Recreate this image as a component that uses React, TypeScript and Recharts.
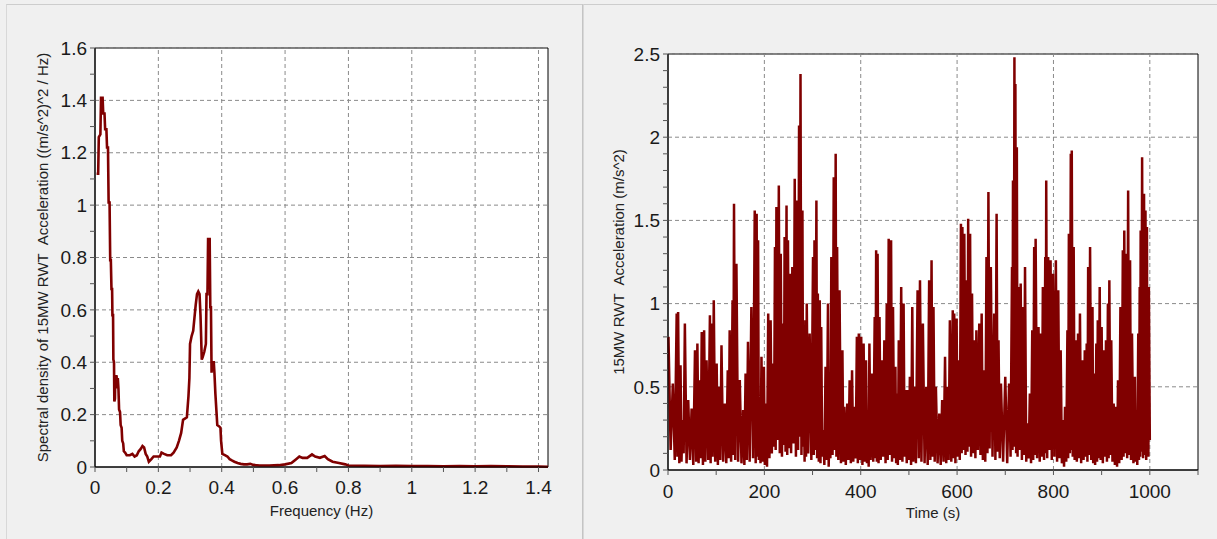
import { LineChart, Line, XAxis, YAxis, CartesianGrid, ReferenceLine, ReferenceArea } from 'recharts';

// spectral density (left panel)
const freqHz = [
  0.005, 0.01, 0.012, 0.017, 0.019, 0.024, 0.026, 0.03, 0.032, 0.036, 0.038, 0.041, 0.043, 0.046, 0.048, 0.05,
  0.052, 0.054, 0.055, 0.057, 0.058, 0.06, 0.061, 0.063, 0.064, 0.068, 0.07, 0.072, 0.074, 0.076, 0.079, 0.081,
  0.084, 0.086, 0.089, 0.091, 0.095, 0.1, 0.11, 0.118, 0.125, 0.132, 0.138, 0.145, 0.15, 0.155, 0.16, 0.165,
  0.17, 0.178, 0.185, 0.195, 0.205, 0.21, 0.218, 0.228, 0.24, 0.248, 0.258, 0.265, 0.272, 0.278, 0.29, 0.295,
  0.298, 0.3, 0.305, 0.31, 0.314, 0.318, 0.322, 0.326, 0.33, 0.333, 0.335, 0.337, 0.34, 0.345, 0.35, 0.352,
  0.355, 0.357, 0.362, 0.364, 0.366, 0.368, 0.37, 0.375, 0.377, 0.38, 0.384, 0.386, 0.392, 0.396, 0.398, 0.402,
  0.41, 0.418, 0.425, 0.432, 0.44, 0.45, 0.46, 0.47, 0.48, 0.49, 0.5, 0.52, 0.55, 0.58, 0.6, 0.62,
  0.635, 0.645, 0.655, 0.67, 0.685, 0.695, 0.71, 0.725, 0.735, 0.75, 0.77, 0.79, 0.8, 0.85, 0.9, 0.95,
  1.0, 1.05, 1.1, 1.15, 1.2, 1.25, 1.3, 1.35, 1.4, 1.43,
];
const psdValues = [
  1.12, 1.12, 1.26, 1.27, 1.41, 1.41, 1.35, 1.35, 1.29, 1.29, 1.22, 1.22, 1.01, 1.01, 0.79, 0.79,
  0.68, 0.68, 0.58, 0.58, 0.41, 0.4, 0.25, 0.26, 0.34, 0.35, 0.3, 0.34, 0.3, 0.22, 0.21, 0.16,
  0.15, 0.1, 0.09, 0.06, 0.055, 0.045, 0.045, 0.05, 0.04, 0.045, 0.06, 0.07, 0.08, 0.075, 0.05, 0.04,
  0.02, 0.03, 0.04, 0.04, 0.04, 0.055, 0.05, 0.045, 0.045, 0.055, 0.075, 0.1, 0.13, 0.18, 0.19, 0.27,
  0.34, 0.47, 0.5, 0.52, 0.57, 0.62, 0.66, 0.67, 0.66, 0.58, 0.5, 0.41, 0.42, 0.44, 0.47, 0.66,
  0.66, 0.87, 0.87, 0.61, 0.61, 0.36, 0.4, 0.4, 0.36, 0.28, 0.2, 0.16, 0.155, 0.15, 0.1, 0.05,
  0.045, 0.04, 0.03, 0.025, 0.02, 0.015, 0.012, 0.01, 0.01, 0.012, 0.008, 0.006, 0.006, 0.007, 0.01, 0.015,
  0.03, 0.04, 0.035, 0.035, 0.048, 0.04, 0.035, 0.042, 0.03, 0.02, 0.015, 0.01, 0.006, 0.005, 0.004, 0.005,
  0.004, 0.004, 0.003, 0.004, 0.003, 0.004, 0.003, 0.002, 0.002, 0.001,
];

// acceleration time series (right panel): local maxima and the minimum that follows each
const peakTimes = [
  1, 10, 18, 21, 26, 30, 35, 42, 49, 56,
  61, 66, 70, 75, 80, 87, 90, 95, 101, 106,
  111, 118, 124, 128, 134, 137, 142, 149, 156, 161,
  166, 173, 180, 184, 187, 190, 194, 199, 203, 208,
  213, 218, 222, 225, 230, 234, 239, 242, 246, 249,
  253, 258, 263, 268, 272, 275, 279, 282, 285, 288,
  294, 301, 304, 308, 311, 315, 318, 322, 327, 332,
  335, 339, 344, 348, 351, 356, 362, 366, 372, 377,
  382, 387, 392, 396, 401, 406, 411, 415, 418, 423,
  429, 432, 435, 439, 444, 449, 454, 458, 463, 467,
  472, 475, 479, 484, 489, 493, 498, 502, 507, 511,
  518, 523, 529, 536, 542, 547, 551, 556, 563, 569,
  575, 580, 585, 591, 594, 599, 603, 608, 611, 615,
  620, 623, 627, 631, 636, 640, 646, 651, 656, 661,
  665, 670, 677, 682, 686, 691, 700, 708, 714, 716,
  719, 721, 724, 727, 732, 737, 741, 746, 751, 756,
  760, 763, 769, 774, 778, 783, 785, 789, 794, 799,
  805, 810, 815, 820, 824, 829, 832, 836, 838, 842,
  846, 851, 855, 860, 865, 869, 872, 876, 881, 884,
  889, 892, 896, 900, 905, 909, 913, 916, 920, 925,
  930, 934, 939, 944, 947, 951, 955, 959, 963, 969,
  972, 976, 979, 981, 984, 988, 991, 994, 996, 998,
];
const peakValues = [
  0.8, 0.52, 0.94, 0.95, 0.63, 0.3, 0.88, 0.42, 0.37, 0.72,
  0.76, 0.54, 0.83, 0.84, 0.66, 0.93, 0.88, 1.02, 0.64, 0.5,
  0.75, 0.4, 0.6, 0.84, 1.02, 1.6, 1.24, 0.54, 0.36, 0.58,
  0.77, 0.98, 1.56, 1.54, 1.38, 0.42, 0.68, 0.62, 0.4, 0.94,
  0.9, 0.64, 1.34, 1.58, 1.71, 1.3, 0.88, 1.4, 1.59, 1.38,
  1.18, 1.22, 1.75, 1.62, 2.07, 2.38, 1.56, 0.5, 0.9, 1.0,
  0.82, 1.28, 1.38, 1.62, 1.06, 1.02, 0.86, 0.24, 0.62, 1.0,
  0.24, 1.28, 1.76, 1.9, 1.34, 1.08, 0.72, 0.38, 0.4, 0.54,
  0.6, 0.38, 0.8, 0.82, 0.8, 0.76, 0.66, 0.32, 0.76, 0.58,
  0.92, 1.32, 1.3, 0.92, 0.66, 0.78, 1.0, 1.39, 1.38, 0.98,
  0.62, 0.46, 0.78, 1.1, 1.0, 0.48, 0.48, 0.56, 0.98, 0.5,
  1.08, 1.14, 0.88, 0.5, 1.14, 1.26, 0.98, 0.5, 0.34, 0.42,
  0.68, 0.5, 0.9, 0.96, 0.94, 0.91, 0.66, 1.48, 1.46, 1.42,
  1.14, 1.51, 1.42, 1.06, 0.78, 0.84, 0.88, 0.94, 0.6, 1.28,
  1.67, 1.22, 0.94, 1.54, 0.78, 0.52, 0.56, 0.52, 1.22, 1.74,
  2.48, 2.32, 1.94, 1.1, 1.12, 0.98, 1.22, 0.28, 0.46, 0.84,
  1.34, 1.39, 0.86, 0.82, 1.1, 1.28, 1.74, 1.28, 1.26, 1.18,
  1.26, 1.08, 0.72, 0.3, 0.38, 0.84, 1.42, 1.9, 1.92, 1.34,
  0.78, 0.82, 0.94, 0.66, 0.72, 0.76, 1.22, 1.34, 0.98, 0.58,
  0.76, 0.9, 1.1, 0.86, 0.72, 0.78, 1.0, 1.14, 0.78, 0.4,
  0.38, 0.54, 0.98, 1.32, 1.44, 1.3, 1.68, 1.26, 0.82, 0.56,
  0.34, 0.82, 1.1, 1.44, 1.88, 1.66, 1.56, 1.46, 1.1, 1.1,
];
const troughValues = [
  0.12, 0.06, 0.08, 0.04, 0.05, 0.1, 0.04, 0.06, 0.03, 0.05,
  0.04, 0.07, 0.03, 0.05, 0.06, 0.04, 0.08, 0.05, 0.03, 0.06,
  0.05, 0.04, 0.07, 0.05, 0.09, 0.06, 0.05, 0.04, 0.03, 0.06,
  0.05, 0.07, 0.04, 0.08, 0.06, 0.04, 0.05, 0.03, 0.02, 0.07,
  0.1, 0.14, 0.12, 0.18, 0.1, 0.08, 0.15, 0.11, 0.09, 0.13,
  0.1, 0.16, 0.08, 0.12, 0.2, 0.09, 0.14, 0.05, 0.08, 0.1,
  0.06, 0.09, 0.12, 0.07, 0.05, 0.04, 0.08, 0.03, 0.06, 0.02,
  0.07, 0.09, 0.12, 0.08, 0.06, 0.04, 0.05, 0.03, 0.06, 0.04,
  0.05, 0.07, 0.04, 0.06, 0.03, 0.05, 0.04, 0.02, 0.06, 0.05,
  0.07, 0.05, 0.04, 0.06, 0.08, 0.04, 0.06, 0.09, 0.05, 0.07,
  0.04, 0.03, 0.06, 0.05, 0.08, 0.04, 0.06, 0.03, 0.05, 0.04,
  0.07, 0.05, 0.04, 0.03, 0.06, 0.08, 0.05, 0.04, 0.03, 0.05,
  0.04, 0.06, 0.05, 0.07, 0.04, 0.08, 0.06, 0.1, 0.12, 0.09,
  0.11, 0.14, 0.08, 0.1, 0.07, 0.12, 0.09, 0.06, 0.05, 0.1,
  0.13, 0.08, 0.06, 0.11, 0.07, 0.05, 0.04, 0.08, 0.12, 0.16,
  0.14, 0.1, 0.08, 0.12, 0.06, 0.09, 0.05, 0.07, 0.04, 0.06,
  0.09, 0.07, 0.05, 0.08, 0.06, 0.1, 0.07, 0.12, 0.06, 0.08,
  0.05, 0.07, 0.04, 0.02, 0.05, 0.07, 0.1, 0.12, 0.08, 0.06,
  0.05, 0.07, 0.04, 0.06, 0.08, 0.05, 0.09, 0.06, 0.04, 0.03,
  0.05, 0.07, 0.06, 0.04, 0.08, 0.05, 0.07, 0.09, 0.05, 0.03,
  0.02, 0.04, 0.06, 0.08, 0.1, 0.07, 0.09, 0.06, 0.04, 0.05,
  0.03, 0.06, 0.08, 0.11, 0.07, 0.09, 0.06, 0.1, 0.08, 0.18,
];
const timeEnd = 1000;

// ticks
const psdXTicks = [0, 0.1, 0.2, 0.3, 0.4, 0.5, 0.6, 0.7, 0.8, 0.9, 1, 1.1, 1.2, 1.3, 1.4];
const psdXLabels = [0, 0.2, 0.4, 0.6, 0.8, 1, 1.2, 1.4];
const psdYTicks = [0, 0.1, 0.2, 0.3, 0.4, 0.5, 0.6, 0.7, 0.8, 0.9, 1, 1.1, 1.2, 1.3, 1.4, 1.5, 1.6];
const psdYLabels = [0, 0.2, 0.4, 0.6, 0.8, 1, 1.2, 1.4, 1.6];
const timeTicks = [0, 100, 200, 300, 400, 500, 600, 700, 800, 900, 1000, 1100];
const timeLabels = [0, 200, 400, 600, 800, 1000];
const accYTicks = [
  0, 0.1, 0.2, 0.3, 0.4, 0.5, 0.6, 0.7, 0.8, 0.9, 1, 1.1, 1.2, 1.3, 1.4, 1.5, 1.6, 1.7, 1.8, 1.9, 2, 2.1, 2.2, 2.3, 2.4, 2.5,
];
const accYLabels = [0, 0.5, 1, 1.5, 2, 2.5];

const psdData = freqHz.map((f, i) => ({ f, v: psdValues[i] }));
const accData = peakTimes.flatMap((t, i) => {
  const last = i + 1 >= peakTimes.length;
  return [
    { t, a: peakValues[i] },
    { t: last ? timeEnd : (t + peakTimes[i + 1]) / 2, a: troughValues[i] },
  ];
});

const LINE = '#800000';
const GRID = '#8a8a8a';
const FONT = '"Liberation Sans", Arial, sans-serif';
const TICK_FONT = 19;
const TITLE_STYLE = { fontSize: 15, fill: '#222', fontFamily: FONT };

const isIn = (v: number, list: number[]) => list.some((m) => Math.abs(m - v) < 1e-9);

function BottomTick(props: any) {
  const { x, y, payload, labels } = props;
  if (!isIn(payload.value, labels)) return <g />;
  return (
    <text x={x} y={y} dy="0.71em" textAnchor="middle" fill="#1a1a1a" fontSize={TICK_FONT} fontFamily={FONT}>
      {String(payload.value)}
    </text>
  );
}

function LeftTick(props: any) {
  const { x, y, payload, labels } = props;
  if (!isIn(payload.value, labels)) return <g />;
  return (
    <text x={x} y={y} dy="0.355em" textAnchor="end" fill="#1a1a1a" fontSize={TICK_FONT} fontFamily={FONT}>
      {String(payload.value)}
    </text>
  );
}

export default function App() {
  return (
    <div style={{ position: 'absolute', left: 0, top: 0, width: 1217, height: 539, background: '#f0f0f0', overflow: 'hidden', fontFamily: FONT }}>
      <div style={{ position: 'absolute', left: 6, top: 4, width: 575, height: 540, borderTop: '1px solid #cdcdcd', borderLeft: '1px solid #d8d8d8', borderRight: '1px solid #c4c4c4' }} />
      <div style={{ position: 'absolute', left: 583, top: 4, width: 640, height: 540, borderTop: '1px solid #cdcdcd', borderLeft: '1px solid #d8d8d8' }} />

      <div style={{ position: 'absolute', left: 0, top: 0 }}>
        <LineChart width={580} height={539} data={psdData} margin={{ top: 48, right: 32, bottom: 0, left: 0 }}>
          <CartesianGrid horizontal={false} vertical={false} fill="#ffffff" />
          {psdXLabels.slice(1).map((v) => (
            <ReferenceLine key={`gx${v}`} x={v} stroke={GRID} strokeDasharray="4 3" />
          ))}
          {psdYLabels.slice(1).map((v) => (
            <ReferenceLine key={`gy${v}`} y={v} stroke={GRID} strokeDasharray="4 3" />
          ))}
          <XAxis
            dataKey="f"
            type="number"
            domain={[0, 1.43]}
            ticks={psdXTicks}
            interval={0}
            height={72}
            tickSize={5}
            tickMargin={9}
            axisLine={{ stroke: '#000' }}
            tickLine={{ stroke: '#555' }}
            tick={<BottomTick labels={psdXLabels} />}
            label={{ value: 'Frequency (Hz)', position: 'insideBottom', offset: 23, style: TITLE_STYLE }}
          />
          <YAxis
            type="number"
            domain={[0, 1.6]}
            ticks={psdYTicks}
            interval={0}
            width={95}
            tickSize={5}
            tickMargin={3}
            axisLine={{ stroke: '#000' }}
            tickLine={{ stroke: '#555' }}
            tick={<LeftTick labels={psdYLabels} />}
            label={{
              value: 'Spectral density of 15MW RWT \u00a0Acceleration ((m/s^2)^2 / Hz)',
              angle: -90,
              position: 'insideLeft',
              offset: 43,
              style: { ...TITLE_STYLE, textAnchor: 'middle' },
            }}
          />
          <Line dataKey="v" type="linear" stroke={LINE} strokeWidth={2.6} dot={false} isAnimationActive={false} />
          <ReferenceArea x1={0} x2={1.43} y1={0} y2={1.6} fill="none" stroke="#000" strokeWidth={1} />
        </LineChart>
      </div>

      <div style={{ position: 'absolute', left: 582, top: 0 }}>
        <LineChart width={635} height={539} data={accData} margin={{ top: 54, right: 19, bottom: 0, left: 0 }}>
          <CartesianGrid horizontal={false} vertical={false} fill="#ffffff" />
          {timeLabels.slice(1).map((v) => (
            <ReferenceLine key={`gx${v}`} x={v} stroke={GRID} strokeDasharray="4 3" />
          ))}
          {accYLabels.slice(1).map((v) => (
            <ReferenceLine key={`gy${v}`} y={v} stroke={GRID} strokeDasharray="4 3" />
          ))}
          <XAxis
            dataKey="t"
            type="number"
            domain={[0, 1100]}
            ticks={timeTicks}
            interval={0}
            height={69}
            tickSize={5}
            tickMargin={10}
            axisLine={{ stroke: '#000' }}
            tickLine={{ stroke: '#555' }}
            tick={<BottomTick labels={timeLabels} />}
            label={{ value: 'Time (s)', position: 'insideBottom', offset: 21, style: TITLE_STYLE }}
          />
          <YAxis
            type="number"
            domain={[0, 2.5]}
            ticks={accYTicks}
            interval={0}
            width={86}
            tickSize={5}
            tickMargin={3}
            axisLine={{ stroke: '#000' }}
            tickLine={{ stroke: '#555' }}
            tick={<LeftTick labels={accYLabels} />}
            label={{
              value: '15MW RWT \u00a0Acceleration (m/s^2)',
              angle: -90,
              position: 'insideLeft',
              offset: 37,
              style: { ...TITLE_STYLE, textAnchor: 'middle' },
            }}
          />
          <Line dataKey="a" type="linear" stroke={LINE} strokeWidth={2.5} strokeLinejoin="bevel" dot={false} isAnimationActive={false} />
          <ReferenceArea x1={0} x2={1100} y1={0} y2={2.5} fill="none" stroke="#000" strokeWidth={1} />
        </LineChart>
      </div>
    </div>
  );
}
